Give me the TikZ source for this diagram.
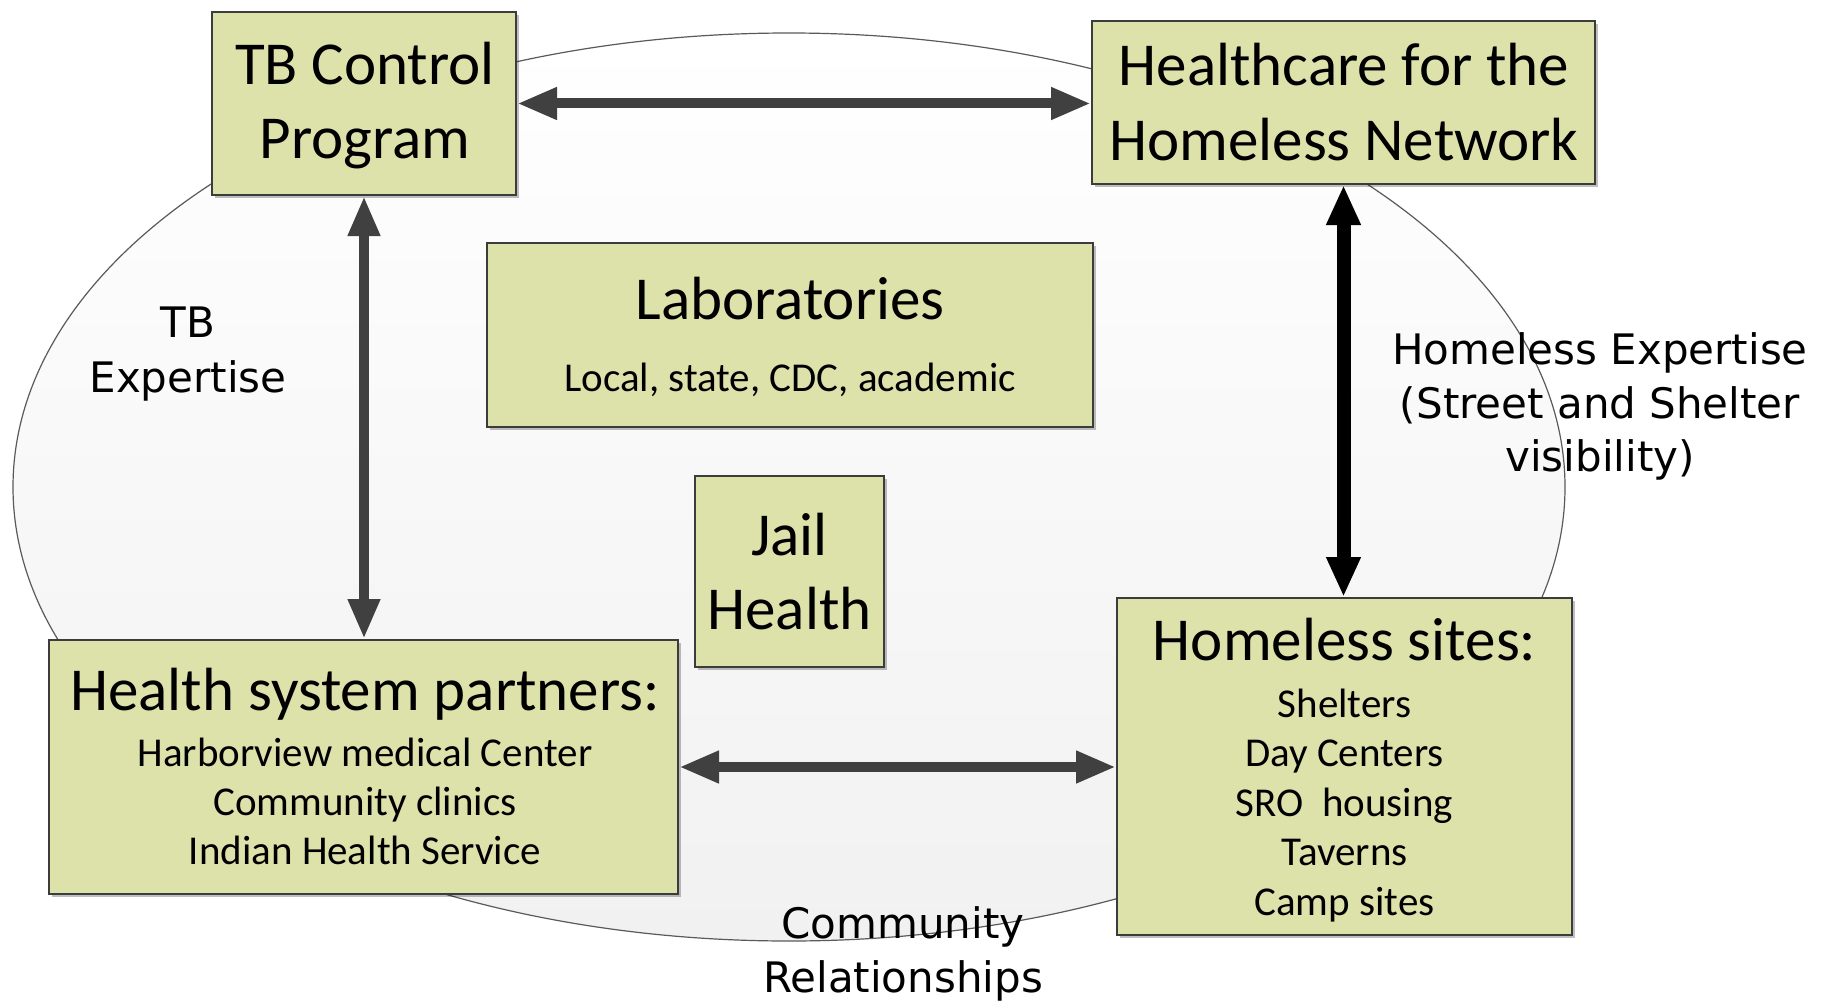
\documentclass[tikz,border=0pt]{standalone}
\usepackage{fontspec}
\setmainfont{Carlito}
\newfontfamily\comicf{DejaVu Sans}
\usetikzlibrary{arrows.meta,shadows}
\definecolor{boxfill}{RGB}{221,226,170}
\definecolor{boxline}{RGB}{60,60,60}
\definecolor{arrowgray}{RGB}{64,64,64}
\definecolor{ringline}{RGB}{90,90,90}
\definecolor{ringfill}{RGB}{241,241,241}
\begin{document}
\begin{tikzpicture}[x=0.5pt,y=-0.5pt,
  box/.style={draw=boxline, line width=1pt, fill=boxfill, inner sep=0pt,
    drop shadow={shadow xshift=1.5pt, shadow yshift=-1.5pt, opacity=0.25, fill=black}},
  big/.style={font=\fontsize{30.5}{37}\selectfont, anchor=base, inner sep=0pt},
  small/.style={font=\fontsize{20.5}{25}\selectfont, anchor=base, inner sep=0pt},
  lbl/.style={font=\comicf\fontsize{21}{27}\selectfont, anchor=base, inner sep=0pt},
  link/.style={draw=arrowgray, line width=5pt, {Triangle[length=20pt,width=15pt]}-{Triangle[length=20pt,width=15pt]}},
  blink/.style={draw=black, line width=7pt, {Triangle[length=20pt,width=16pt]}-{Triangle[length=20pt,width=16pt]}},
]
\useasboundingbox[fill=white] (0,0) rectangle (1839,1006);

% ring
\shade[top color=white, bottom color=ringfill, draw=ringline, line width=0.6pt]
  (789,487) ellipse [x radius=776, y radius=454];

% boxes
\node[box, minimum width=152pt, minimum height=91.5pt] (tb) at (364,103.5) {};
\node[box, minimum width=251.5pt, minimum height=81.5pt] (hc) at (1343.5,102.5) {};
\node[box, minimum width=303pt, minimum height=92pt] (lab) at (790,335) {};
\node[box, minimum width=94.5pt, minimum height=95.5pt] (jail) at (789.5,571.5) {};
\node[box, minimum width=314.5pt, minimum height=127pt] (hsp) at (363.5,767) {};
\node[box, minimum width=227.5pt, minimum height=168.5pt] (hs) at (1344.5,766.5) {};

% box texts
\node[big] (tb1) at (365,84) {TB Control};
\node[big] (tb2) at (365,158) {Program};
\node[big] (hc1) at (1344,86) {Healthcare for the};
\node[big] (hc2) at (1344,160) {Homeless Network};
\node[big] (lab1) at (790,319) {Laboratories};
\node[small] (lab2) at (790,391) {Local, state, CDC, academic};
\node[big] (jail1) at (789.5,555) {Jail};
\node[big] (jail2) at (789.5,629) {Health};
\node[big] (hsp1) at (365,710) {Health system partners:};
\node[small] (hsp2) at (365,766) {Harborview medical Center};
\node[small] (hsp3) at (365,815) {Community clinics};
\node[small] (hsp4) at (365,864) {Indian Health Service};
\node[big] (hs1) at (1344.5,660) {Homeless sites:};
\node[small] (hs2) at (1344.5,717) {Shelters};
\node[small] (hs3) at (1344.5,766.5) {Day Centers};
\node[small] (hs4) at (1344.5,816) {SRO\ \ housing};
\node[small] (hs5) at (1344.5,865.5) {Taverns};
\node[small] (hs6) at (1344.5,915) {Camp sites};

% connectors
\draw[link] (tb.east) -- (tb.east -| hc.west);
\draw[link] (tb.south) -- (tb.south |- hsp.north);
\draw[blink] (hc.south) -- (hc.south |- hs.north);
\draw[link] (hsp.east) -- (hsp.east -| hs.west);

% labels
\node[lbl] (l1) at (188,337) {TB};
\node[lbl] (l2) at (188,392) {Expertise};
\node[lbl] (l3) at (1600,364) {Homeless Expertise};
\node[lbl] (l4) at (1600,418) {(Street and Shelter};
\node[lbl] (l5) at (1600,471) {visibility)};
\node[lbl] (l6) at (903,938) {Community};
\node[lbl] (l7) at (903,992) {Relationships};
\end{tikzpicture}
\end{document}
